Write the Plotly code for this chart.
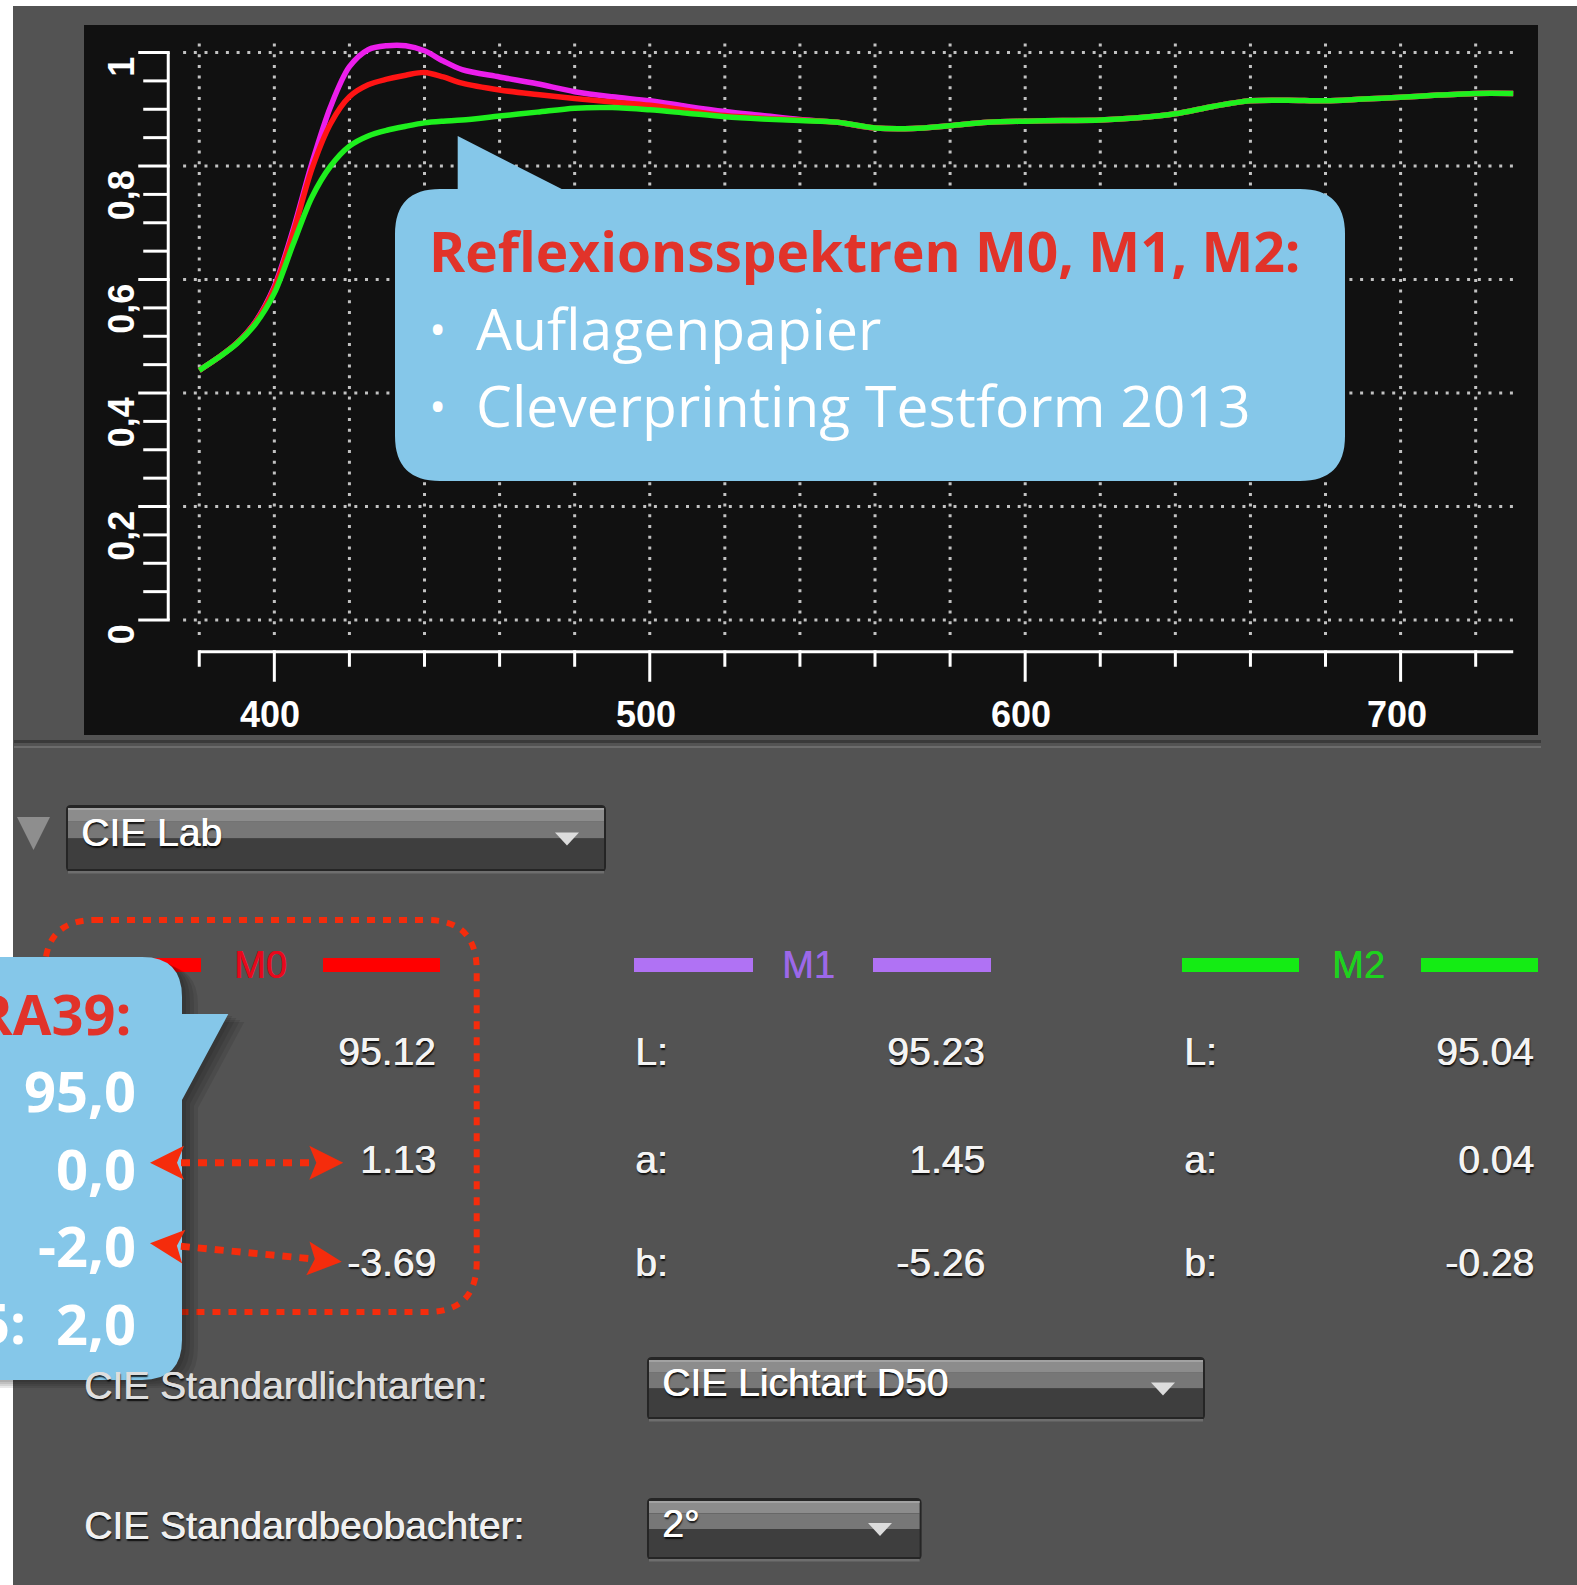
import plotly.graph_objects as go

# ---------------- data ----------------
WAVELENGTH = [380, 385, 390, 395, 400, 405, 410, 415, 420, 425, 430, 435, 440, 445, 450, 460, 470, 480, 490, 500,
              510, 520, 530, 540, 550, 560, 570, 580, 590, 600, 610, 620, 630, 640, 650, 660, 670, 680, 690, 700,
              710, 720, 730]
M0_REFL = [0.440, 0.462, 0.488, 0.525, 0.585, 0.682, 0.795, 0.875, 0.922, 0.943, 0.953, 0.960, 0.965, 0.957, 0.946,
           0.934, 0.926, 0.919, 0.913, 0.907,
           0.898, 0.889, 0.884, 0.881, 0.877, 0.867, 0.866, 0.871, 0.877, 0.879, 0.880, 0.881, 0.885, 0.892, 0.905,
           0.915, 0.916, 0.915, 0.918, 0.921, 0.925, 0.928, 0.928]
M1_REFL = [0.440, 0.462, 0.488, 0.526, 0.588, 0.688, 0.805, 0.905, 0.975, 1.005, 1.012, 1.012, 1.003, 0.985, 0.970,
           0.957, 0.945, 0.931, 0.922, 0.915,
           0.905, 0.896, 0.889, 0.882, 0.877, 0.867, 0.866, 0.871, 0.877, 0.879, 0.880, 0.881, 0.885, 0.892, 0.905,
           0.915, 0.916, 0.915, 0.918, 0.921, 0.925, 0.928, 0.928]
M2_REFL = [0.440, 0.462, 0.487, 0.522, 0.576, 0.662, 0.745, 0.800, 0.835, 0.853, 0.863, 0.870, 0.876, 0.879, 0.881,
           0.888, 0.895, 0.902, 0.903, 0.899,
           0.893, 0.887, 0.883, 0.880, 0.877, 0.867, 0.866, 0.871, 0.877, 0.879, 0.880, 0.881, 0.885, 0.892, 0.905,
           0.915, 0.916, 0.915, 0.918, 0.921, 0.925, 0.928, 0.928]

X_TICKS_MAJOR = [400, 500, 600, 700]
X_TICK_LABELS = ["400", "500", "600", "700"]
X_TICKS_MINOR = [380, 420, 440, 460, 480, 520, 540, 560, 580, 620, 640, 660, 680, 720]
X_GRID = [380, 400, 420, 440, 460, 480, 500, 520, 540, 560, 580, 600, 620, 640, 660, 680, 700, 720]
Y_TICKS_MAJOR = [0, 0.2, 0.4, 0.6, 0.8, 1.0]
Y_TICK_LABELS = ["0", "0,2", "0,4", "0,6", "0,8", "1"]
Y_TICKS_MINOR = [0.05, 0.1, 0.15, 0.25, 0.3, 0.35, 0.45, 0.5, 0.55, 0.65, 0.7, 0.75, 0.85, 0.9, 0.95]

SERIES_NAMES = ["M0", "M1", "M2"]
LAB_LABELS = ["L:", "a:", "b:"]
M0_LAB = ["95.12", "1.13", "-3.69"]
M1_LAB = ["95.23", "1.45", "-5.26"]
M2_LAB = ["95.04", "0.04", "-0.28"]
FOGRA_TITLE = "FOGRA39:"
FOGRA_VALUES = ["95,0", "0,0", "-2,0", "2,0"]
CALLOUT_TITLE = "Reflexionsspektren M0, M1, M2:"
CALLOUT_ITEMS = ["Auflagenpapier", "Cleverprinting Testform 2013"]

# ---------------- styling / layout constants ----------------
W, H = 1577, 1585
PANEL = "#535353"
X_RANGE = [349.3, 736.6]
Y_RANGE = [-0.2026, 1.0485]
Y_AXIS_AT = 371.74      # wavelength where the y axis line sits
X_AXIS_AT = -0.0559     # reflectance where the x axis line sits
X_AXIS_END = 730
GRID_X = [375.7, 731.8]
GRID_Y = [-0.0264, 1.028]
CURVE_COLORS = {"M0": "#ff1414", "M1": "#ec1eec", "M2": "#1ef01e"}
BAR_COLORS = {"M0": "#ff0000", "M1": "#b072f4", "M2": "#14ec14"}
LABEL_COLORS = {"M0": "#e8081c", "M1": "#9c68e8", "M2": "#1ed21e"}
BUBBLE = "#85c7e9"
RED_TXT = "#e1332a"
DOT_RED = "#f52c0c"
UI_FONT = "Liberation Sans"
UI_SHADOW = "0.7px 0 0 #f4f4f4, 1px 1.5px 1.5px rgba(0,0,0,0.85)"

shapes = []
annotations = []


def P(x, y):
    return f"{x / W:.5f},{1 - y / H:.5f}"


def rrect_path(x0, y0, x1, y1, r):
    return (f"M{P(x0 + r, y0)} L{P(x1 - r, y0)} Q{P(x1, y0)} {P(x1, y0 + r)} "
            f"L{P(x1, y1 - r)} Q{P(x1, y1)} {P(x1 - r, y1)} L{P(x0 + r, y1)} "
            f"Q{P(x0, y1)} {P(x0, y1 - r)} L{P(x0, y0 + r)} Q{P(x0, y0)} {P(x0 + r, y0)} Z")


def prect(x0, y0, x1, y1, fill, layer="above", opacity=1.0):
    shapes.append(dict(type="rect", xref="paper", yref="paper", x0=x0 / W, x1=x1 / W,
                       y0=1 - y1 / H, y1=1 - y0 / H, fillcolor=fill, line=dict(width=0),
                       layer=layer, opacity=opacity))


def ppath(d, fill="rgba(0,0,0,0)", line=None, layer="above", opacity=1.0):
    shapes.append(dict(type="path", xref="paper", yref="paper", path=d, fillcolor=fill,
                       line=line or dict(width=0), layer=layer, opacity=opacity))


def pline(x0, y0, x1, y1, color, width, dash="solid"):
    shapes.append(dict(type="line", xref="paper", yref="paper", x0=x0 / W, x1=x1 / W,
                       y0=1 - y0 / H, y1=1 - y1 / H, line=dict(color=color, width=width, dash=dash),
                       layer="above"))


def text(x, y, s, size, color, family=UI_FONT, xanchor="left", yanchor="middle", weight=400, shadow=None):
    font = dict(family=family, size=size, color=color, weight=weight)
    if shadow:
        font["shadow"] = shadow
    annotations.append(dict(xref="paper", yref="paper", x=x / W, y=1 - y / H, text=s, showarrow=False,
                            xanchor=xanchor, yanchor=yanchor, font=font, borderpad=0))


# ---------------- page frame ----------------
prect(0, 0, 13, H, "#ffffff", layer="below")
prect(0, 0, W, 6, "#ffffff", layer="below")

# ---------------- chart grid & axes (data coords) ----------------
GRID_STYLE = dict(color="#c2c2c2", width=3, dash="3px,7.7px")
for v in Y_TICKS_MAJOR:
    shapes.append(dict(type="line", xref="x", yref="y", x0=GRID_X[0], x1=GRID_X[1], y0=v, y1=v,
                       line=GRID_STYLE, layer="below"))
for t in X_GRID:
    shapes.append(dict(type="line", xref="x", yref="y", x0=t, x1=t, y0=GRID_Y[0], y1=GRID_Y[1],
                       line=GRID_STYLE, layer="below"))

AX = dict(color="#ffffff", width=3)
shapes.append(dict(type="line", xref="x", yref="y", x0=Y_AXIS_AT, x1=Y_AXIS_AT, y0=0, y1=1, line=AX, layer="below"))
for v in Y_TICKS_MAJOR:
    shapes.append(dict(type="line", xref="x", yref="y", xsizemode="pixel", xanchor=Y_AXIS_AT,
                       x0=-30, x1=1.5, y0=v, y1=v, line=AX, layer="below"))
for v in Y_TICKS_MINOR:
    shapes.append(dict(type="line", xref="x", yref="y", xsizemode="pixel", xanchor=Y_AXIS_AT,
                       x0=-25, x1=0, y0=v, y1=v, line=AX, layer="below"))
shapes.append(dict(type="line", xref="x", yref="y", x0=min(X_TICKS_MINOR), x1=X_AXIS_END,
                   y0=X_AXIS_AT, y1=X_AXIS_AT, line=AX, layer="below"))
for t in X_TICKS_MAJOR:
    shapes.append(dict(type="line", xref="x", yref="y", ysizemode="pixel", yanchor=X_AXIS_AT,
                       x0=t, x1=t, y0=1.5, y1=-30, line=AX, layer="below"))
for t in X_TICKS_MINOR:
    shapes.append(dict(type="line", xref="x", yref="y", ysizemode="pixel", yanchor=X_AXIS_AT,
                       x0=t, x1=t, y0=1.5, y1=-15, line=AX, layer="below"))

for t, lab in zip(X_TICKS_MAJOR, X_TICK_LABELS):
    annotations.append(dict(xref="x", yref="y", x=t, y=X_AXIS_AT, text=lab, showarrow=False,
                            xanchor="center", yanchor="middle", xshift=-4, yshift=-63,
                            font=dict(family=UI_FONT, size=36, color="#ffffff", weight=700)))
for v, lab in zip(Y_TICKS_MAJOR, Y_TICK_LABELS):
    annotations.append(dict(xref="x", yref="y", x=Y_AXIS_AT, y=v, text=lab, showarrow=False,
                            textangle=-90, xanchor="center", yanchor="top", xshift=-47, yshift=-2,
                            font=dict(family=UI_FONT, size=36, color="#ffffff", weight=700)))

# ---------------- callout 1 (on chart) ----------------
bx0, by0, bx1, by1, br = 395, 189, 1345, 481, 45
ppath(f"M{P(bx0 + br, by0)} L{P(457.7, by0)} L{P(457.7, 136)} L{P(561.7, by0)} L{P(bx1 - br, by0)} "
      f"Q{P(bx1, by0)} {P(bx1, by0 + br)} L{P(bx1, by1 - br)} Q{P(bx1, by1)} {P(bx1 - br, by1)} "
      f"L{P(bx0 + br, by1)} Q{P(bx0, by1)} {P(bx0, by1 - br)} L{P(bx0, by0 + br)} Q{P(bx0, by0)} {P(bx0 + br, by0)} Z",
      fill=BUBBLE)
text(428, 251, CALLOUT_TITLE, 55, RED_TXT, family="Open Sans", weight=700)
for i, item in enumerate(CALLOUT_ITEMS):
    cy = 328 + i * 77
    text(437, cy, "•", 46, "#ffffff", family="Open Sans", xanchor="center")
    text(475, cy, item, 57, "#ffffff", family="Open Sans")

# ---------------- lower UI panel ----------------
prect(14, 740, 1541, 743, "#3a3a3a")
prect(14, 746, 1541, 748, "#6c6c6c")

# disclosure triangle
ppath(f"M{P(17, 817)} L{P(50, 817)} L{P(33.5, 850)} Z", fill="#8e8e8e")


def dropdown(x0, y0, x1, y1, label, arrow_x):
    ym = (y0 + y1) / 2
    ppath(rrect_path(x0, y0, x1, y1, 5), fill="#252525")
    prect(x0 + 2, y0 + 3, x1 - 2, ym - (ym - y0) / 2, "#8c8c8c")
    prect(x0 + 2, ym - (ym - y0) / 2, x1 - 2, ym, "#777777")
    prect(x0 + 2, y0 + 3, x1 - 2, y0 + 5, "#a2a2a2")
    prect(x0 + 2, ym, x1 - 2, y1 - 3, "#3e3e3e")
    prect(x0 + 2, y1 - 1, x1 - 2, y1 + 1.5, "#6e6e6e")
    ay = ym - 6
    ppath(f"M{P(arrow_x - 12, ay)} L{P(arrow_x + 12, ay)} L{P(arrow_x, ay + 13)} Z", fill="#dcdcdc")
    text(x0 + 14, ym - 6, label, 39, "#ffffff", shadow=UI_SHADOW.replace("#f4f4f4", "#ffffff"))


dropdown(66, 805, 606, 872, "CIE Lab", 567)

# red dotted frame around M0 column
ppath(rrect_path(45, 920, 476.7, 1312, 50), line=dict(color=DOT_RED, width=6, dash="8px,8px"))

# legend rows
COLS = {"M0": (85, 201, 323, 440, 260), "M1": (634, 753, 873, 991, 808), "M2": (1182, 1299, 1421, 1538, 1358)}
for name in SERIES_NAMES:
    l0, l1, r0, r1, cx = COLS[name]
    prect(l0, 958, l1, 972, BAR_COLORS[name])
    prect(r0, 958, r1, 972, BAR_COLORS[name])
    text(cx, 965, name, 38, LABEL_COLORS[name], xanchor="center",
         shadow=f"0.6px 0 0 {LABEL_COLORS[name]}")

ROW_Y = [1051, 1159, 1262]
for name, vals, lx, rx in [("M0", M0_LAB, None, 436.7), ("M1", M1_LAB, 634, 986.3), ("M2", M2_LAB, 1182.5, 1534.6)]:
    for lab, val, ry in zip(LAB_LABELS, vals, ROW_Y):
        if lx is not None:
            text(lx, ry, lab, 39, "#f4f4f4", shadow=UI_SHADOW)
        text(rx, ry, val, 39, "#f4f4f4", xanchor="right", shadow=UI_SHADOW)

text(83, 1385, "CIE Standardlichtarten:", 39, "#dedede", shadow=UI_SHADOW.replace("#f4f4f4", "#dedede"))
dropdown(647, 1357, 1205, 1420, "CIE Lichtart D50", 1163)
text(83, 1525, "CIE Standardbeobachter:", 39, "#f0f0f0", shadow=UI_SHADOW)
dropdown(647, 1498, 921.6, 1560, "2°", 880)

# ---------------- callout 2 (left, FOGRA39) ----------------
def bubble2(dx=0, dy=0):
    return (f"M{P(-30 + dx, 957 + dy)} L{P(142 + dx, 957 + dy)} Q{P(182 + dx, 957 + dy)} {P(182 + dx, 997 + dy)} "
            f"L{P(182 + dx, 1014 + dy)} L{P(228.3 + dx, 1014 + dy)} L{P(182 + dx, 1100 + dy)} "
            f"L{P(182 + dx, 1340 + dy)} Q{P(182 + dx, 1380 + dy)} {P(142 + dx, 1380 + dy)} "
            f"L{P(-30 + dx, 1380 + dy)} Z")


for off in (16, 12, 8, 4):
    ppath(bubble2(off, off * 0.5), fill="#000000", opacity=0.09)
ppath(bubble2(), fill=BUBBLE)

text(132, 1013, FOGRA_TITLE, 56, RED_TXT, family="Open Sans", weight=700, xanchor="right")
for i, val in enumerate(FOGRA_VALUES):
    text(137, 1090 + i * 77.5, val, 56, "#ffffff", family="Open Sans", weight=700, xanchor="right")
text(27, 1322, "5:", 56, "#ffffff", family="Open Sans", weight=700, xanchor="right")

# ---------------- red dotted double arrows ----------------
def double_arrow(a, b, length=34, half=17, notch=7):
    ux, uy = b[0] - a[0], b[1] - a[1]
    n = (ux ** 2 + uy ** 2) ** 0.5
    ux, uy = ux / n, uy / n
    for tip, d in ((a, (ux, uy)), (b, (-ux, -uy))):
        nx, ny = -d[1], d[0]
        b1 = (tip[0] + d[0] * length + nx * half, tip[1] + d[1] * length + ny * half)
        b2 = (tip[0] + d[0] * length - nx * half, tip[1] + d[1] * length - ny * half)
        nt = (tip[0] + d[0] * (length - notch), tip[1] + d[1] * (length - notch))
        ppath(f"M{P(*tip)} L{P(*b1)} L{P(*nt)} L{P(*b2)} Z", fill=DOT_RED)
    s0 = (a[0] + ux * (length - notch + 4), a[1] + uy * (length - notch + 4))
    s1 = (b[0] - ux * (length - notch + 2), b[1] - uy * (length - notch + 2))
    pline(s0[0], s0[1], s1[0], s1[1], DOT_RED, 7, dash="9px,8px")


double_arrow((150, 1162.7), (343.3, 1162.7))
double_arrow((150, 1243.3), (341.7, 1261.7))

# ---------------- figure ----------------
fig = go.Figure()
for name, vals in [("M1", M1_REFL), ("M0", M0_REFL), ("M2", M2_REFL)]:
    fig.add_trace(go.Scatter(x=WAVELENGTH, y=vals, mode="lines", name=name, hoverinfo="skip",
                             line=dict(color=CURVE_COLORS[name], width=5.5, shape="spline", smoothing=0.9)))

fig.update_layout(
    width=W, height=H,
    margin=dict(l=0, r=0, t=0, b=0),
    paper_bgcolor=PANEL,
    plot_bgcolor="#111111",
    showlegend=False,
    xaxis=dict(domain=[84 / W, 1538 / W], range=X_RANGE, visible=False, fixedrange=True),
    yaxis=dict(domain=[1 - 735 / H, 1 - 25 / H], range=Y_RANGE, visible=False, fixedrange=True),
    shapes=shapes,
    annotations=annotations,
)

fig.write_html("out.html", config={"displayModeBar": False},
               post_script="document.body.style.margin='0';document.body.style.overflow='hidden';")
